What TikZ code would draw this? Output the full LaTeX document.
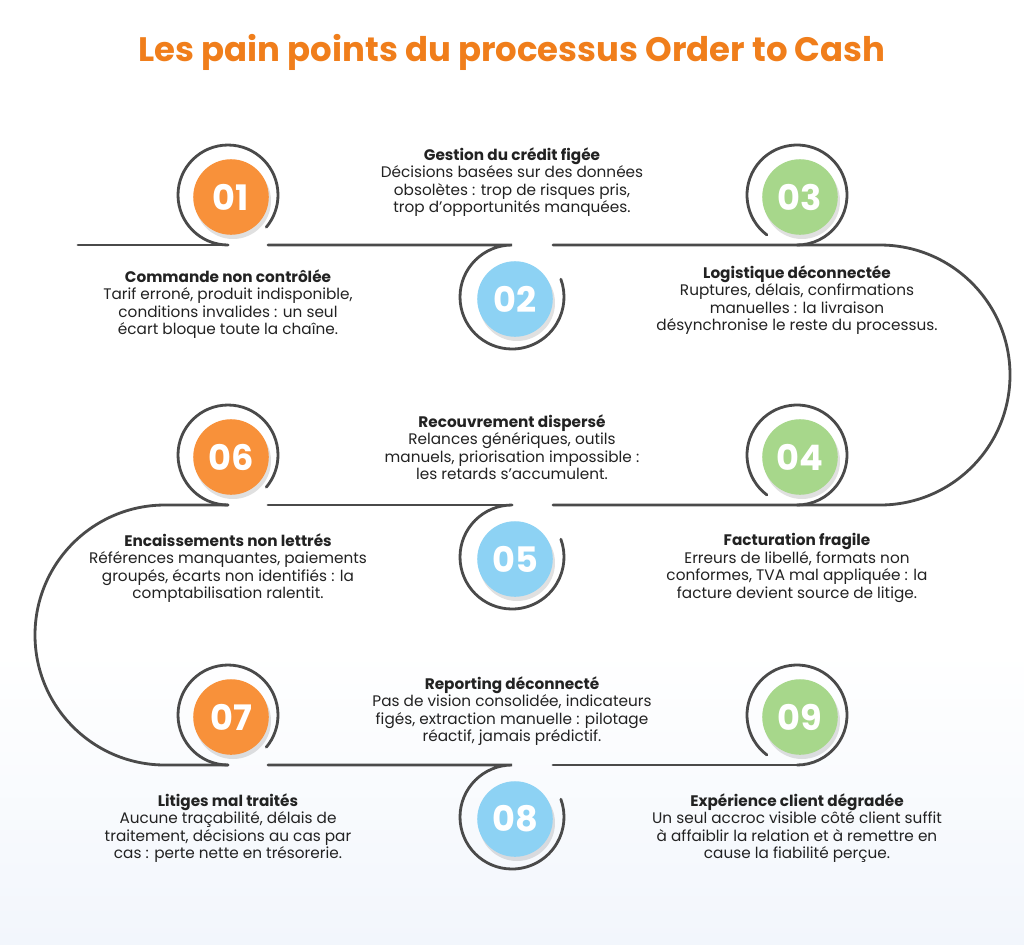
\documentclass[tikz,border=0pt]{standalone}
\usepackage{fontspec}
\setmainfont{Poppins}
\usetikzlibrary{positioning}
\definecolor{titleorange}{HTML}{F07E1B}
\definecolor{dotorange}{HTML}{F8913A}
\definecolor{dotblue}{HTML}{8DD2F4}
\definecolor{dotgreen}{HTML}{A7D78B}
\definecolor{pathgray}{HTML}{4A4A4A}
\definecolor{bodytext}{HTML}{222222}
\definecolor{bgblue}{HTML}{F2F6FC}
\tikzset{ring/.style={draw=pathgray, line width=1.6pt}}
\tikzset{dot/.style={circle, minimum size=43pt, inner sep=0pt, text=white, font=\fontsize{20}{20}\selectfont\bfseries}}
\tikzset{desc/.style={align=center, text=bodytext, font=\fontsize{8.7}{9.9}\selectfont}}
\newcommand\heading[1]{{\bfseries #1}}

\begin{document}
\begin{tikzpicture}[x=0.02cm, y=-0.02cm, line cap=round]
  \useasboundingbox (0,0) rectangle (1024,944);
  \fill[white] (0,0) rectangle (1024,650);
  \shade[top color=white, bottom color=bgblue] (0,944) rectangle (1024,650);
  \node[text=titleorange, font=\fontsize{19.3}{19.3}\selectfont\bfseries] (title) at (512,52) {Les pain points du processus Order to Cash};

  % ring centres
  \coordinate (r1) at (228,195); \coordinate (r2) at (512,297); \coordinate (r3) at (797,195);
  \coordinate (r4) at (797,455); \coordinate (r5) at (512,557); \coordinate (r6) at (228,455);
  \coordinate (r7) at (228,715); \coordinate (r8) at (512,817); \coordinate (r9) at (797,715);

  % path
  \draw[ring] (78,245) -- (228,245);
  \draw[ring] ([shift={(90:50)}]r1) arc[start angle=90, end angle=400, radius=50];
  \draw[ring] (268,245) -- (512,245) arc[start angle=270, end angle=-20, radius=52];
  \draw[ring] (553,245) -- (880,245) arc[start angle=270, end angle=450, radius=130] -- (553,505);
  \draw[ring] ([shift={(127:50)}]r3) arc[start angle=127, end angle=450, radius=50];
  \draw[ring] ([shift={(127:50)}]r4) arc[start angle=127, end angle=450, radius=50];
  \draw[ring] (512,505) arc[start angle=270, end angle=-20, radius=52];
  \draw[ring] (512,505) -- (268,505);
  \draw[ring] ([shift={(90:50)}]r6) arc[start angle=90, end angle=400, radius=50];
  \draw[ring] (228,505) -- (165,505) arc[start angle=270, end angle=90, radius=130] -- (228,765);
  \draw[ring] ([shift={(90:50)}]r7) arc[start angle=90, end angle=400, radius=50];
  \draw[ring] (268,765) -- (512,765) arc[start angle=270, end angle=-20, radius=52];
  \draw[ring] (553,765) -- (800,765);
  \draw[ring] ([shift={(127:50)}]r9) arc[start angle=127, end angle=450, radius=50];

  % numbered dots
  \foreach \i/\c in {1/dotorange,2/dotblue,3/dotgreen,4/dotgreen,5/dotblue,6/dotorange,7/dotorange,8/dotblue,9/dotgreen}{
    \fill[black, opacity=0.12] ([shift={(5,6)}]r\i) circle[radius=38];
    \node[dot, fill=\c] (n\i) at ([shift={(3,2)}]r\i) {0\i};
  }

  % descriptions
  \node[desc] (t1) at (228,304) {\heading{Commande non contrôlée}\\Tarif erroné, produit indisponible,\\conditions invalides : un seul\\écart bloque toute la chaîne.};
  \node[desc] (t2) at (512,182) {\heading{Gestion du crédit figée}\\Décisions basées sur des données\\obsolètes : trop de risques pris,\\trop d'opportunités manquées.};
  \node[desc] (t3) at (797,300) {\heading{Logistique déconnectée}\\Ruptures, délais, confirmations\\manuelles : la livraison\\désynchronise le reste du processus.};
  \node[desc] (t4) at (797,568) {\heading{Facturation fragile}\\Erreurs de libellé, formats non\\conformes, TVA mal appliquée : la\\facture devient source de litige.};
  \node[desc] (t5) at (512,447) {\heading{Recouvrement dispersé}\\Relances génériques, outils\\manuels, priorisation impossible :\\les retards s'accumulent.};
  \node[desc] (t6) at (228,568) {\heading{Encaissements non lettrés}\\Références manquantes, paiements\\groupés, écarts non identifiés : la\\comptabilisation ralentit.};
  \node[desc] (t7) at (228,828) {\heading{Litiges mal traités}\\Aucune traçabilité, délais de\\traitement, décisions au cas par\\cas : perte nette en trésorerie.};
  \node[desc] (t8) at (512,711) {\heading{Reporting déconnecté}\\Pas de vision consolidée, indicateurs\\figés, extraction manuelle : pilotage\\réactif, jamais prédictif.};
  \node[desc] (t9) at (797,828) {\heading{Expérience client dégradée}\\Un seul accroc visible côté client suffit\\à affaiblir la relation et à remettre en\\cause la fiabilité perçue.};
\end{tikzpicture}
\end{document}
